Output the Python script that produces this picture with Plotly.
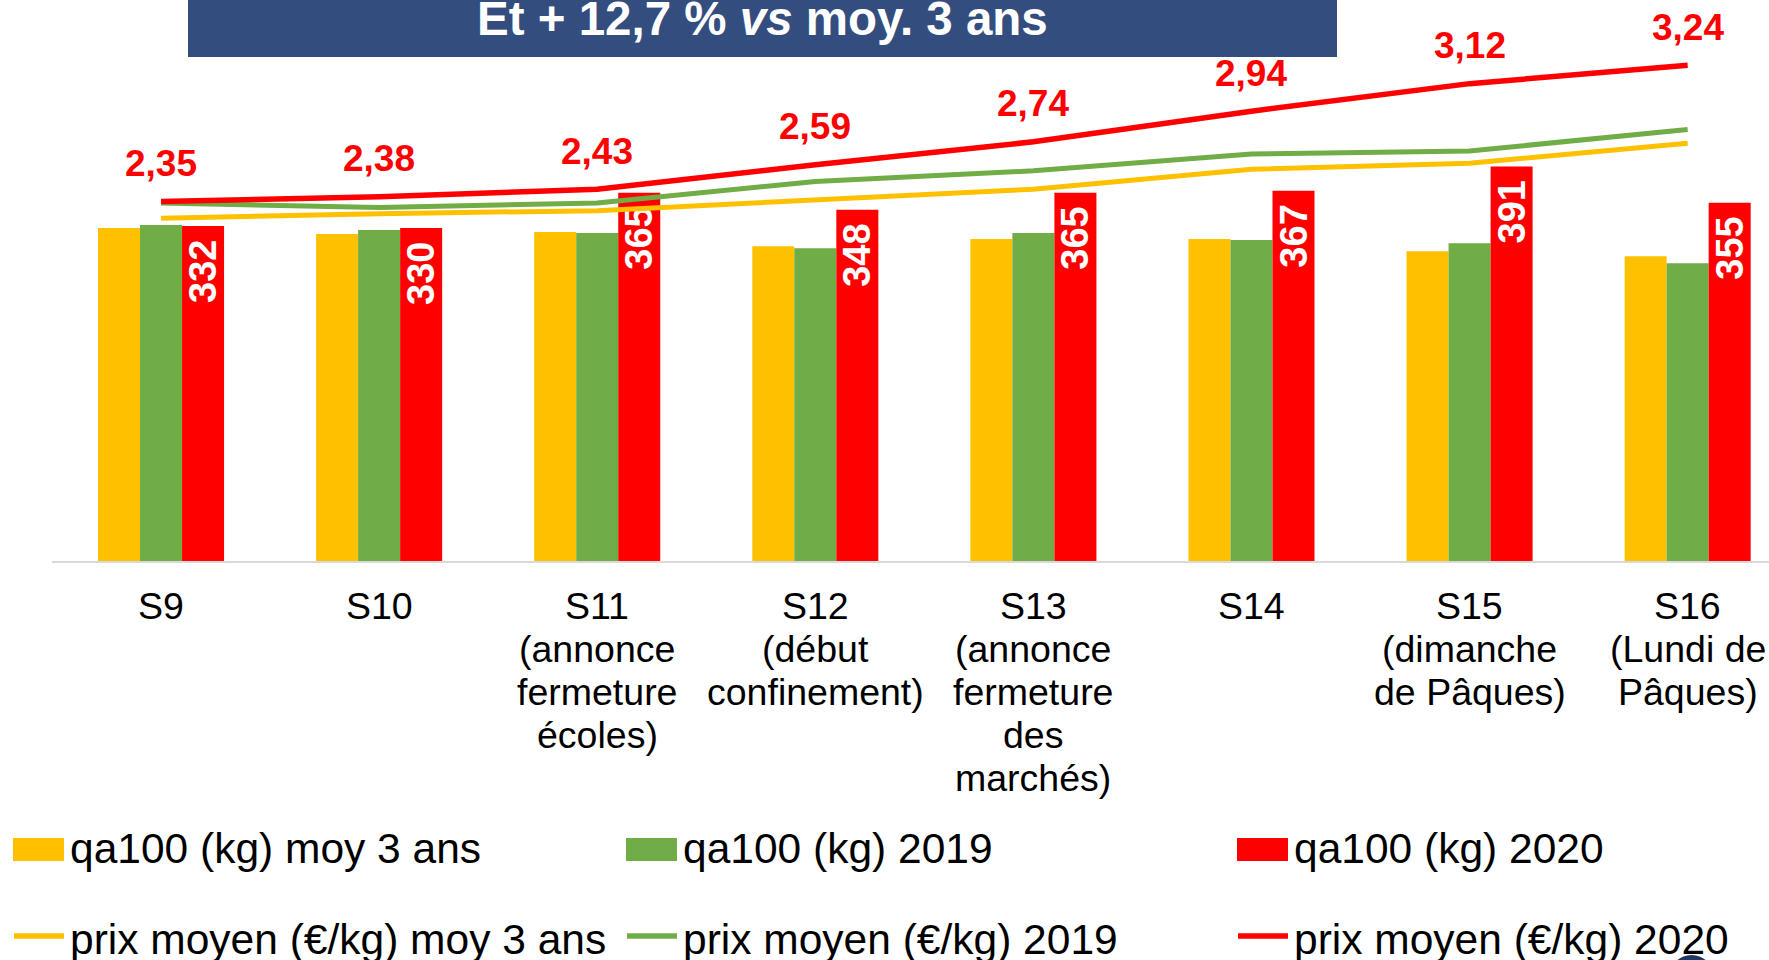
import plotly.graph_objects as go

# ---------------- data ----------------
weeks = ["S9", "S10", "S11", "S12", "S13", "S14", "S15", "S16"]
tick_labels = [
    "S9",
    "S10",
    "S11\n(annonce\nfermeture\nécoles)",
    "S12\n(début\nconfinement)",
    "S13\n(annonce\nfermeture\ndes\nmarchés)",
    "S14",
    "S15\n(dimanche\nde Pâques)",
    "S16\n(Lundi de\nPâques)",
]
qa_moy3 = [330, 324, 326, 312, 319, 319, 307, 302]
qa_2019 = [333, 328, 325, 310, 325, 318, 315, 295]
qa_2020 = [332, 330, 365, 348, 365, 367, 391, 355]
prix_moy3 = [2.24, 2.27, 2.29, 2.36, 2.43, 2.56, 2.60, 2.73]
prix_2019 = [2.34, 2.31, 2.34, 2.48, 2.55, 2.66, 2.68, 2.82]
prix_2020 = [2.35, 2.38, 2.43, 2.59, 2.74, 2.94, 3.12, 3.24]

series_names = [
    "qa100 (kg) moy 3 ans", "qa100 (kg) 2019", "qa100 (kg) 2020",
    "prix moyen (€/kg) moy 3 ans", "prix moyen (€/kg) 2019", "prix moyen (€/kg) 2020",
]
title_text = "<b>Et + 12,7 % <i>vs</i> moy. 3 ans</b>"

YELLOW, GREEN, RED = "#FFC000", "#70AD47", "#FF0000"
NAVY = "#334E7E"
FONT = "Liberation Sans, Arial, sans-serif"

# ---------------- geometry ----------------
W, H = 1769, 960
L, R, T, B = 52, 0, 5, 399
PW, PH = W - L - R, H - T - B


def px_x(px):
    return (px - L) / PW


def px_y(py):
    return (H - B - py) / PH


fig = go.Figure()

for vals, col, name in [(qa_moy3, YELLOW, series_names[0]),
                        (qa_2019, GREEN, series_names[1])]:
    fig.add_trace(go.Bar(x=weeks, y=vals, name=name, marker=dict(color=col, line=dict(width=0)),
                         showlegend=False))

fig.add_trace(go.Bar(
    x=weeks, y=qa_2020, name=series_names[2], marker=dict(color=RED, line=dict(width=0)),
    text=[f"{v}\u00a0" for v in qa_2020], textposition="inside", insidetextanchor="end",
    textangle=-90, constraintext="none",
    textfont=dict(family=FONT, size=38, color="white", weight="bold"),
    showlegend=False,
))

for vals, col, w, name in [(prix_moy3, YELLOW, 5, series_names[3]),
                           (prix_2019, GREEN, 5, series_names[4]),
                           (prix_2020, RED, 5.5, series_names[5])]:
    fig.add_trace(go.Scatter(x=weeks, y=vals, yaxis="y2", mode="lines", name=name,
                             line=dict(color=col, width=w), showlegend=False))

annotations = []
# price labels on red line
for wk, v in zip(weeks, prix_2020):
    annotations.append(dict(x=wk, y=v, xref="x", yref="y2", yshift=38, showarrow=False,
                            text=f"<b>{v:.2f}</b>".replace(".", ","), yanchor="middle",
                            font=dict(family=FONT, size=37, color=RED)))
# category labels
for wk, lab in zip(weeks, tick_labels):
    for j, line in enumerate(lab.split("\n")):
        annotations.append(dict(x=wk, xref="x", y=px_y(606 + 43 * j), yref="paper",
                                text=line, showarrow=False, xanchor="center", yanchor="middle",
                                font=dict(family=FONT, size=37.5, color="black")))
# title
annotations.append(dict(x=px_x(762), y=px_y(19), xref="paper", yref="paper", text=title_text,
                        showarrow=False, xanchor="center", yanchor="middle",
                        font=dict(family=FONT, size=47.5, color="white")))

shapes = [dict(type="rect", xref="paper", yref="paper", x0=px_x(188), x1=px_x(1337),
               y0=px_y(57), y1=px_y(-5), fillcolor=NAVY, line=dict(width=0), layer="below")]

# manual legend
leg_cols_sym = [13, 626, 1237]
leg_cols_txt = [68, 681, 1292]
leg_colors = [YELLOW, GREEN, RED]
for i in range(3):
    shapes.append(dict(type="rect", xref="paper", yref="paper",
                       x0=px_x(leg_cols_sym[i]), x1=px_x(leg_cols_sym[i] + 51),
                       y0=px_y(861), y1=px_y(838), fillcolor=leg_colors[i], line=dict(width=0)))
    shapes.append(dict(type="line", xref="paper", yref="paper",
                       x0=px_x(leg_cols_sym[i] + 1), x1=px_x(leg_cols_sym[i] + 51),
                       y0=px_y(936), y1=px_y(936), line=dict(color=leg_colors[i], width=5.5)))
    annotations.append(dict(x=px_x(leg_cols_txt[i]), y=px_y(848), xref="paper", yref="paper",
                            text=series_names[i], showarrow=False, xanchor="left", yanchor="middle",
                            font=dict(family=FONT, size=42.5, color="black")))
    annotations.append(dict(x=px_x(leg_cols_txt[i]), y=px_y(939), xref="paper", yref="paper",
                            text=series_names[i + 3], showarrow=False, xanchor="left", yanchor="middle",
                            font=dict(family=FONT, size=42.5, color="black")))

# small navy logo fragment bottom right
shapes.append(dict(type="circle", xref="paper", yref="paper", x0=px_x(1669), x1=px_x(1714),
                   y0=px_y(1000), y1=px_y(955), fillcolor="#1F3864", line=dict(width=0)))

fig.update_layout(
    width=W, height=H, margin=dict(l=L, r=R, t=T, b=B, autoexpand=False),
    paper_bgcolor="white", plot_bgcolor="white",
    barmode="group", bargap=0.422, bargroupgap=0,
    showlegend=False,
    xaxis=dict(type="category", range=[-0.5, 7.373], showline=True, linecolor="#D9D9D9",
               linewidth=2, showticklabels=False, ticks="", showgrid=False, zeroline=False),
    yaxis=dict(range=[0, 551], visible=False, showgrid=False),
    yaxis2=dict(range=[0, 3.634], overlaying="y", visible=False, showgrid=False),
    annotations=annotations, shapes=shapes,
    font=dict(family=FONT),
)

fig.write_html("out.html", config={"displayModeBar": False},
               post_script="document.body.style.margin='0px';document.body.style.overflow='hidden';")
